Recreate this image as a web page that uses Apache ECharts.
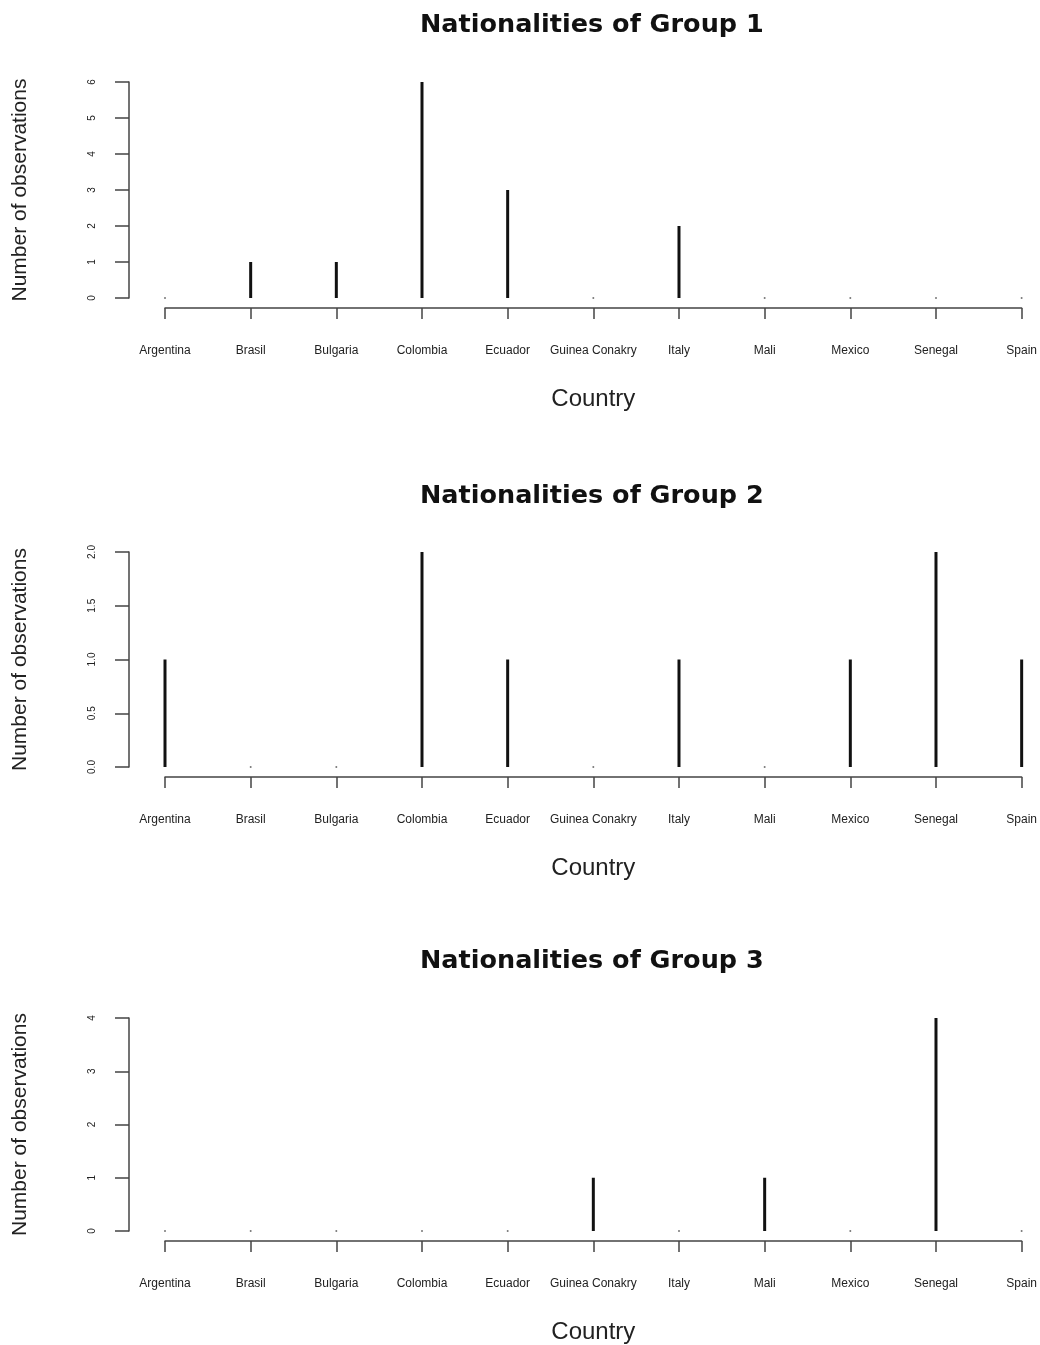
<!DOCTYPE html>
<html><head><meta charset="utf-8">
<script src="https://cdn.jsdelivr.net/npm/echarts@6/dist/echarts.min.js"></script>
<style>html,body{margin:0;padding:0;background:#fff}#c{width:1040px;height:1345px}</style>
</head><body><div id="c"></div>
<script>
const countries = ["Argentina","Brasil","Bulgaria","Colombia","Ecuador","Guinea Conakry","Italy","Mali","Mexico","Senegal","Spain"];
const group1 = [0,1,1,6,3,0,2,0,0,0,0];
const group2 = [1,0,0,2,1,0,1,0,1,2,1];
const group3 = [0,0,0,0,0,1,0,1,0,4,0];
const titles = ["Nationalities of Group 1","Nationalities of Group 2","Nationalities of Group 3"];
const yMax = [6,2,4];
const yStep = [1,0.5,1];
const yDigits = [0,1,0];

const groups = [group1, group2, group3];
const gridTops = [82, 552, 1018];
const gridHs = [216, 215, 215];
const titleTops = [7, 478, 943];
const axisColor = '#444';
const textColor = '#222';

const option = {
  animation:false,
  backgroundColor:'#fff',
  title: titles.map((t,i)=>({
    text:t, left:415, top:titleTops[i],
    textStyle:{fontFamily:'DejaVu Sans', fontWeight:'bold', fontSize:25.5, color:'#111'}
  })),
  grid: gridTops.map((t,i)=>({left:165, right:18, top:t, height:gridHs[i]})),
  xAxis: groups.map((g,i)=>({
    type:'value', gridIndex:i, min:0, max:countries.length-1, interval:1,
    position:'bottom', offset:10,
    name:'Country', nameLocation:'middle', nameGap:79,
    nameTextStyle:{fontFamily:'Liberation Sans', fontSize:24, color:textColor, verticalAlign:'top'},
    axisLine:{show:true, onZero:false, lineStyle:{color:axisColor, width:1.5}},
    axisTick:{show:true, length:11, lineStyle:{color:axisColor, width:1.5}},
    splitLine:{show:false},
    axisLabel:{margin:37, fontFamily:'Liberation Sans', fontSize:12, color:textColor,
      showMinLabel:true, showMaxLabel:true, hideOverlap:false,
      formatter:v=>countries[v]||''}
  })),
  yAxis: groups.map((g,i)=>({
    type:'value', gridIndex:i, min:0, max:yMax[i], interval:yStep[i],
    position:'left', offset:36,
    name:'Number of observations', nameLocation:'middle', nameGap:98,
    nameTextStyle:{fontFamily:'Liberation Sans', fontSize:21, color:textColor},
    axisLine:{show:true, onZero:false, lineStyle:{color:axisColor, width:1.5}},
    axisTick:{show:true, length:14, lineStyle:{color:axisColor, width:1.5}},
    splitLine:{show:false},
    axisLabel:{rotate:90, margin:32, fontFamily:'Liberation Sans', fontSize:10, color:textColor,
      formatter:v=>Number(v).toFixed(yDigits[i])}
  })),
  series: groups.flatMap((g,i)=>[
    {type:'bar', xAxisIndex:i, yAxisIndex:i, barWidth:3, clip:false,
     itemStyle:{color:'#111'}, data:g.map((v,k)=>[k,v])},
    {type:'scatter', xAxisIndex:i, yAxisIndex:i, symbolSize:2, clip:false,
     itemStyle:{color:'#555'}, data:g.map((v,k)=>[k,0]).filter((p,k)=>g[k]===0)}
  ])
};
echarts.init(document.getElementById('c'),null,{renderer:'canvas'}).setOption(option);
</script></body></html>
